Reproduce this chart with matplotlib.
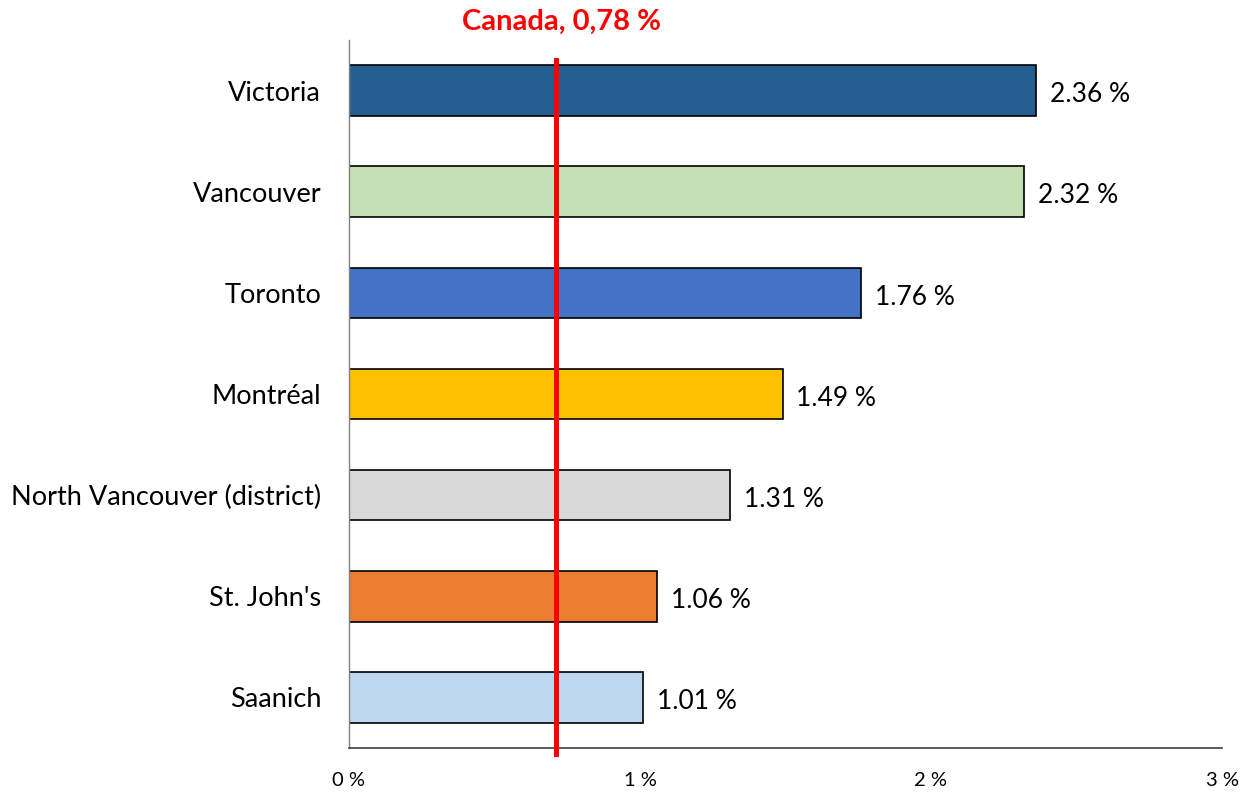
import matplotlib
matplotlib.use("Agg")
import matplotlib.pyplot as plt

plt.rcParams['font.family'] = ['Lato', 'DejaVu Sans']

cities = ["Saanich", "St. John's", "North Vancouver (district)", "Montréal",
          "Toronto", "Vancouver", "Victoria"]
values = [1.01, 1.06, 1.31, 1.49, 1.76, 2.32, 2.36]
colors = ["#BDD7EE", "#ED7D31", "#D9D9D9", "#FFC000", "#4472C4", "#C5E0B4", "#255E91"]
canada_label = "Canada, 0,78 %"
canada_line = 0.71
xticks = [0, 1, 2, 3]
xticklabels = ["0 %", "1 %", "2 %", "3 %"]

fig = plt.figure(figsize=(12.53, 7.94), dpi=100)
ax = fig.add_axes([349/1253, 1-748/794, (1222-349)/1253, (748-40)/794])

y = list(range(len(cities)))
ax.barh(y, values, height=0.5, color=colors, edgecolor="black", linewidth=1.2, zorder=2)
for yi, v in zip(y, values):
    ax.annotate(f"{v:.2f} %", xy=(v, yi), xytext=(10, -3), textcoords="offset points",
                va="center", ha="left", fontsize=19, color="black")

ax.axvline(canada_line, ymin=-0.009, ymax=0.972, color="#FF0000", linewidth=3.6,
           clip_on=False, zorder=3)
fig.text(561/1253, 1-22/794, canada_label, ha="center", va="center",
         color="#FF0000", fontsize=21, fontweight="bold")

ax.set_xlim(0, 3)
ax.set_ylim(-0.5, 6.5)
ax.set_xticks(xticks)
ax.set_xticklabels(xticklabels, fontsize=14.5)
ax.set_yticks(y)
ax.set_yticklabels(cities, fontsize=19.5)
ax.tick_params(axis="x", length=0, pad=17)
ax.tick_params(axis="y", length=0, pad=20)

for s in ["top", "right"]:
    ax.spines[s].set_visible(False)
ax.spines["left"].set_color("#808080")
ax.spines["left"].set_linewidth(1.0)
ax.spines["bottom"].set_color("#404040")
ax.spines["bottom"].set_linewidth(1.2)

fig.savefig("out.png", dpi=100)
